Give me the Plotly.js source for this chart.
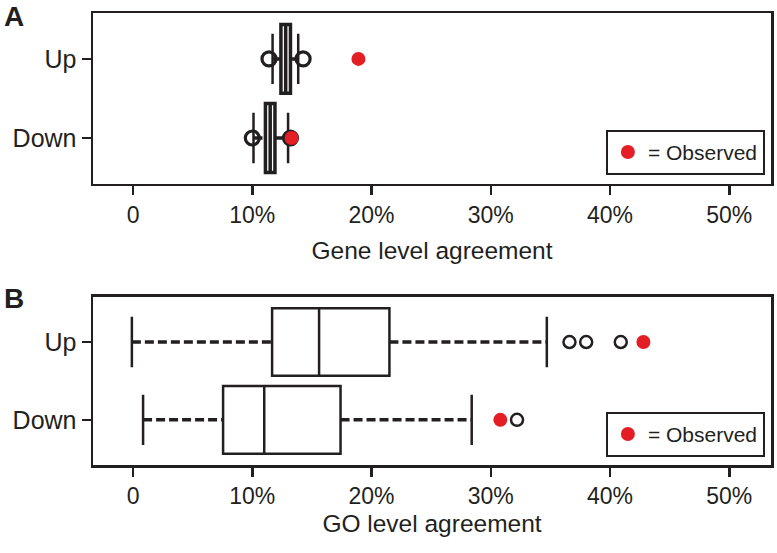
<!DOCTYPE html>
<html>
<head>
<meta charset="utf-8">
<script src="https://cdn.plot.ly/plotly-3.0.1.min.js"></script>
<style>
  html, body { margin: 0; padding: 0; background: #fff; }
  #chart { width: 777px; height: 553px; }
</style>
</head>
<body>
<div id="chart"></div>
<script>
// categories sit at y = 0 (Down) and y = 1 (Up)
var categories = ['Down', 'Up'];
var catPos = [0, 1];

// panel A: gene level agreement (%), order [Down, Up]
var geneQ1 = [11.1, 12.4];
var geneMedian = [11.5, 12.8];
var geneQ3 = [11.9, 13.2];
var geneLow = [10.1, 11.7];
var geneHigh = [13.0, 13.85];
var geneOutDown = [10.0, 13.2];
var geneOutUp = [11.4, 14.26];
var geneObserved = [13.3, 18.9];

// panel B: GO level agreement (%), order [Down, Up]
var goQ1 = [7.55, 11.66];
var goMedian = [11.0, 15.6];
var goQ3 = [17.4, 21.5];
var goLow = [0.84, -0.1];
var goHigh = [28.4, 34.7];
var goOutDown = [32.2];
var goOutUp = [36.6, 38.0, 40.9];
var goObserved = [30.8, 42.8];

var tickVals = [0, 10, 20, 30, 40, 50];
var tickText = ['0', '10%', '20%', '30%', '40%', '50%'];

var ink = '#231f20';
var red = '#e31e24';
var font = 'Liberation Sans, Arial, sans-serif';

// one box panel out of the stats arrays
function panel(xa, ya, q1, med, q3, lo, hi, outDown, outUp, obs, legendName, boxLine, circSize, circLine) {
  var traces = [];
  traces.push({
    type: 'box', orientation: 'h', y: catPos,
    q1: q1, median: med, q3: q3, lowerfence: q1, upperfence: q3,
    width: 0.87, whiskerwidth: 0, boxpoints: false,
    fillcolor: 'rgba(0,0,0,0)', line: {color: ink, width: boxLine},
    xaxis: xa, yaxis: ya, showlegend: false, hoverinfo: 'skip'
  });
  // dashed whiskers
  var wx = [], wy = [];
  for (var i = 0; i < catPos.length; i++) {
    wx.push(lo[i], q1[i], null, q3[i], hi[i], null);
    wy.push(catPos[i], catPos[i], null, catPos[i], catPos[i], null);
  }
  traces.push({
    type: 'scatter', mode: 'lines', x: wx, y: wy,
    line: {color: ink, width: 3.5, dash: '9px,4px'},
    xaxis: xa, yaxis: ya, showlegend: false, hoverinfo: 'skip'
  });
  // whisker caps
  traces.push({
    type: 'scatter', mode: 'markers', x: lo.concat(hi), y: catPos.concat(catPos),
    marker: {symbol: 'line-ns', size: 36, line: {color: ink, width: 2.5}},
    xaxis: xa, yaxis: ya, showlegend: false, hoverinfo: 'skip'
  });
  // outliers
  var ox = outDown.concat(outUp);
  var oy = outDown.map(function () { return 0; }).concat(outUp.map(function () { return 1; }));
  traces.push({
    type: 'scatter', mode: 'markers', x: ox, y: oy,
    marker: {symbol: 'circle-open', size: circSize, color: ink, line: {color: ink, width: circLine}},
    xaxis: xa, yaxis: ya, showlegend: false, hoverinfo: 'skip'
  });
  // observed
  traces.push({
    type: 'scatter', mode: 'markers', x: obs, y: catPos, name: '= Observed',
    marker: {symbol: 'circle', size: 14, color: red},
    xaxis: xa, yaxis: ya, legend: legendName, showlegend: true, hoverinfo: 'skip'
  });
  return traces;
}

var data = panel('x', 'y', geneQ1, geneMedian, geneQ3, geneLow, geneHigh, geneOutDown, geneOutUp, geneObserved, 'legend', 3.5, 14, 3.2)
  .concat(panel('x2', 'y2', goQ1, goMedian, goQ3, goLow, goHigh, goOutDown, goOutUp, goObserved, 'legend2', 2.5, 12, 2.5));

function xaxis(anchor, title, standoff) {
  return {
    anchor: anchor, domain: [0, 1], range: [-3.36, 53.5],
    tickvals: tickVals, ticktext: tickText,
    ticks: 'outside', ticklen: 9, tickwidth: 2.5, tickcolor: ink,
    showline: true, mirror: true, linecolor: ink, linewidth: 2.5,
    showgrid: false, zeroline: false,
    tickfont: {family: font, size: 23, color: ink},
    title: {text: title, font: {family: font, size: 24.5, color: ink}, standoff: standoff}
  };
}
function yaxis(anchor, domain) {
  return {
    anchor: anchor, domain: domain, range: [-0.58, 1.58],
    tickvals: catPos, ticktext: categories,
    ticks: 'outside', ticklen: 9, tickwidth: 2.5, tickcolor: ink,
    showline: true, mirror: true, linecolor: ink, linewidth: 2.5,
    showgrid: false, zeroline: false,
    tickfont: {family: font, size: 25, color: ink}
  };
}
function legendBox(y) {
  return {
    x: 0.991, xanchor: 'right', y: y, yanchor: 'bottom',
    bgcolor: '#fff', bordercolor: ink, borderwidth: 2,
    font: {family: font, size: 21, color: ink},
    itemwidth: 30, tracegroupgap: 0
  };
}

var layout = {
  width: 777, height: 553,
  margin: {l: 93, r: 6, t: 13, b: 88},
  paper_bgcolor: '#fff', plot_bgcolor: '#fff',
  showlegend: true,
  xaxis: xaxis('y', 'Gene level agreement', 15),
  yaxis: yaxis('x', [0.622, 1]),
  xaxis2: xaxis('y2', 'GO level agreement', 7),
  yaxis2: yaxis('x2', [0, 0.372]),
  legend: legendBox(0.642),
  legend2: legendBox(0.018),
  annotations: [
    {text: '<b>A</b>', xref: 'paper', yref: 'paper', x: -0.134, y: 0.992, xanchor: 'left', yanchor: 'middle',
     showarrow: false, font: {family: font, size: 28, color: ink}},
    {text: '<b>B</b>', xref: 'paper', yref: 'paper', x: -0.134, y: 0.369, xanchor: 'left', yanchor: 'middle',
     showarrow: false, font: {family: font, size: 28, color: ink}}
  ]
};

Plotly.newPlot('chart', data, layout, {displayModeBar: false, staticPlot: true});
</script>
</body>
</html>
